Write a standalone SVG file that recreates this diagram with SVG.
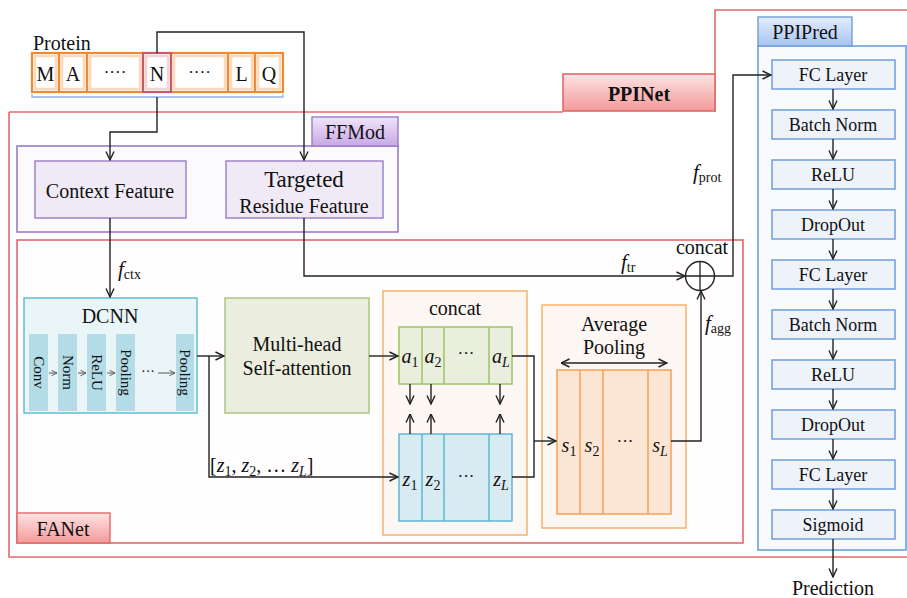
<svg xmlns="http://www.w3.org/2000/svg" width="907" height="598" viewBox="0 0 907 598" font-family="'Liberation Serif', 'Times New Roman', serif" font-size="20">
  <defs>
    <style>
      text { font-family: "Liberation Serif", "Times New Roman", serif; fill: #111; }
      .c { text-anchor: middle; }
      .it { font-style: italic; }
      .sub { font-size: 14px; }
      .ly { font-size: 18px; }
      .wire { fill: none; stroke: #222; stroke-width: 1.4; }
      .thin { fill: none; stroke: #555; stroke-width: 1; }
      .layer { fill: #eef3f9; stroke: #6f9fd8; stroke-width: 1.5; }
      .bar { fill: #b3dce7; stroke: none; }
      .res { fill: none; stroke: #f08a30; stroke-width: 2.2; }
      .glow { fill: #fff; stroke: #fcd9bb; stroke-width: 2.5; }
    </style>
    <marker id="ah" viewBox="0 0 10 10" refX="9.5" refY="5" markerWidth="10" markerHeight="10" orient="auto-start-reverse" markerUnits="userSpaceOnUse">
      <path d="M1,1 L9.5,5 L1,9" fill="none" stroke="#222" stroke-width="1.4"/>
    </marker>
    <marker id="ahs" viewBox="0 0 10 10" refX="9" refY="5" markerWidth="7" markerHeight="7" orient="auto" markerUnits="userSpaceOnUse">
      <path d="M1,1 L9,5 L1,9" fill="none" stroke="#555" stroke-width="1.3"/>
    </marker>
    <linearGradient id="gRed" x1="0" y1="0" x2="0" y2="1">
      <stop offset="0" stop-color="#fde3e3"/>
      <stop offset="1" stop-color="#f39a9a"/>
    </linearGradient>
    <linearGradient id="gPurple" x1="0" y1="0" x2="0" y2="1">
      <stop offset="0" stop-color="#f0e4fa"/>
      <stop offset="1" stop-color="#c7a8e6"/>
    </linearGradient>
    <linearGradient id="gBlue" x1="0" y1="0" x2="0" y2="1">
      <stop offset="0" stop-color="#e4eeff"/>
      <stop offset="1" stop-color="#a6c3f0"/>
    </linearGradient>
  </defs>

  <!-- PPINet outer frame -->
  <g id="ppinet">
    <path d="M9,112 H563 M715,112 V10 H907 M9,112 V557 H907" fill="none" stroke="#e06a6a" stroke-width="1.6"/>
    <rect x="563" y="74" width="152" height="37" fill="url(#gRed)" stroke="#e06a6a" stroke-width="1.6"/>
    <text x="639" y="101" class="c" font-weight="bold">PPINet</text>
  </g>

  <!-- Protein sequence -->
  <g id="protein">
    <text x="33" y="50">Protein</text>
    <rect class="glow" x="35" y="56" width="21" height="33"/>
    <rect class="glow" x="62" y="56" width="22" height="33"/>
    <rect class="glow" x="90" y="56" width="50" height="33"/>
    <rect class="glow" x="174" y="56" width="51" height="33"/>
    <rect class="glow" x="231" y="56" width="21" height="33"/>
    <rect class="glow" x="258" y="56" width="22" height="33"/>
    <rect class="res" x="32" y="53" width="27" height="39"/>
    <rect class="res" x="59" y="53" width="28" height="39"/>
    <rect class="res" x="87" y="53" width="56" height="39"/>
    <rect class="res" x="171" y="53" width="57" height="39"/>
    <rect class="res" x="228" y="53" width="27" height="39"/>
    <rect class="res" x="255" y="53" width="28" height="39"/>
    <rect x="146" y="56" width="22" height="33" fill="#fff" stroke="#f2d4d8" stroke-width="2.5"/>
    <rect x="143" y="53" width="28" height="39" fill="none" stroke="#c45a6a" stroke-width="2.2"/>
    <text x="45.5" y="81" class="c">M</text>
    <text x="73" y="81" class="c">A</text>
    <text x="115" y="78" class="c" font-size="17">····</text>
    <text x="157" y="81" class="c">N</text>
    <text x="199.5" y="78" class="c" font-size="17">····</text>
    <text x="241.5" y="81" class="c">L</text>
    <text x="269" y="81" class="c">Q</text>
    <path d="M32,94 V97 H283 V94" fill="none" stroke="#8fb2e2" stroke-width="1.3"/>
  </g>

  <!-- FFMod -->
  <g id="ffmod">
    <rect x="17" y="146" width="381" height="86" fill="#fbfbfd" stroke="#9a7cc8" stroke-width="1.6"/>
    <rect x="312" y="117" width="86" height="29" fill="url(#gPurple)" stroke="#9a7cc8" stroke-width="1.4"/>
    <text x="355" y="139" class="c">FFMod</text>
  </g>
  <g id="context-feature">
    <rect x="35" y="161" width="151" height="57" fill="#efeaf5" stroke="#9a7cc8" stroke-width="1.4"/>
    <text x="110" y="198" class="c">Context Feature</text>
  </g>
  <g id="targeted-feature">
    <rect x="226" y="161" width="157" height="57" fill="#efeaf5" stroke="#9a7cc8" stroke-width="1.4"/>
    <text x="304" y="187" class="c" font-size="23">Targeted</text>
    <text x="304" y="213" class="c">Residue Feature</text>
  </g>

  <!-- FANet -->
  <g id="fanet">
    <rect x="17" y="240" width="726" height="303" fill="#fffdfd" stroke="#e06a6a" stroke-width="1.6"/>
    <rect x="17" y="513" width="93" height="30" fill="url(#gRed)" stroke="#e06a6a" stroke-width="1.4"/>
    <text x="63" y="536" class="c">FANet</text>
  </g>

  <!-- DCNN -->
  <g id="dcnn">
    <rect x="24" y="298" width="173" height="115" fill="#eaf5f8" stroke="#62bcd6" stroke-width="1.5"/>
    <text x="110" y="323" class="c">DCNN</text>
    <rect class="bar" x="29" y="334" width="19" height="77"/>
    <rect class="bar" x="58" y="334" width="19" height="77"/>
    <rect class="bar" x="87" y="334" width="19" height="77"/>
    <rect class="bar" x="116" y="334" width="19" height="77"/>
    <rect class="bar" x="176" y="334" width="18" height="77"/>
    <text transform="translate(38.5,372.5) rotate(90)" class="c" font-size="15" dy="5">Conv</text>
    <text transform="translate(67.5,372.5) rotate(90)" class="c" font-size="15" dy="5">Norm</text>
    <text transform="translate(96.5,372.5) rotate(90)" class="c" font-size="15" dy="5">ReLU</text>
    <text transform="translate(125.5,372.5) rotate(90)" class="c" font-size="15" dy="5">Pooling</text>
    <text transform="translate(185,372.5) rotate(90)" class="c" font-size="15" dy="5">Pooling</text>
    <path class="thin" d="M49,373 H57" marker-end="url(#ahs)"/>
    <path class="thin" d="M78,373 H86" marker-end="url(#ahs)"/>
    <path class="thin" d="M107,373 H115" marker-end="url(#ahs)"/>
    <text x="148" y="376" class="c" font-size="14" fill="#444">···</text>
    <path class="thin" d="M158,373 H175" marker-end="url(#ahs)"/>
  </g>

  <!-- Multi-head self-attention -->
  <g id="mhsa">
    <rect x="225" y="298" width="144" height="115" fill="#ebeedf" stroke="#a9c882" stroke-width="1.5"/>
    <text x="297" y="351" class="c">Multi-head</text>
    <text x="297" y="375" class="c">Self-attention</text>
  </g>

  <!-- Concat block -->
  <g id="concat-block">
    <rect x="383" y="291" width="144" height="244" fill="#fdf7f3" stroke="#f5b26b" stroke-width="1.5"/>
    <text x="455" y="315" class="c">concat</text>
    <rect x="399" y="327" width="113" height="57" fill="#eaeedc" stroke="#9cc464" stroke-width="1.5"/>
    <path d="M422,327 V384 M444,327 V384 M489,327 V384" stroke="#9cc464" stroke-width="1.5"/>
    <rect x="399" y="434" width="113" height="87" fill="#d8ebf2" stroke="#5fb8d2" stroke-width="1.5"/>
    <path d="M422,434 V521 M444,434 V521 M489,434 V521" stroke="#5fb8d2" stroke-width="1.5"/>
    <text x="410" y="363" class="c"><tspan class="it">a</tspan><tspan class="sub" dy="4">1</tspan></text>
    <text x="433" y="363" class="c"><tspan class="it">a</tspan><tspan class="sub" dy="4">2</tspan></text>
    <text x="466" y="359" class="c" font-size="17">···</text>
    <text x="501" y="363" class="c"><tspan class="it">a</tspan><tspan class="sub it" dy="4">L</tspan></text>
    <text x="410" y="486" class="c"><tspan class="it">z</tspan><tspan class="sub" dy="4">1</tspan></text>
    <text x="433" y="486" class="c"><tspan class="it">z</tspan><tspan class="sub" dy="4">2</tspan></text>
    <text x="466" y="482" class="c" font-size="17">···</text>
    <text x="501" y="486" class="c"><tspan class="it">z</tspan><tspan class="sub it" dy="4">L</tspan></text>
  </g>

  <!-- Average pooling -->
  <g id="avg-pooling">
    <rect x="542" y="305" width="144" height="223" fill="#fdf7f3" stroke="#f5b26b" stroke-width="1.5"/>
    <text x="614" y="331" class="c">Average</text>
    <text x="614" y="354" class="c">Pooling</text>
    <rect x="557" y="370" width="114" height="144" fill="#fce5d3" stroke="#f5a05a" stroke-width="1.5"/>
    <path d="M580,370 V514 M603,370 V514 M648,370 V514" stroke="#f5a05a" stroke-width="1.5"/>
    <text x="569" y="452" class="c"><tspan class="it">s</tspan><tspan class="sub" dy="4">1</tspan></text>
    <text x="592" y="452" class="c"><tspan class="it">s</tspan><tspan class="sub" dy="4">2</tspan></text>
    <text x="625" y="447" class="c" font-size="17">···</text>
    <text x="660" y="452" class="c"><tspan class="it">s</tspan><tspan class="sub it" dy="4">L</tspan></text>
  </g>

  <!-- Concat operator -->
  <g id="concat-op">
    <circle cx="700" cy="276" r="14.5" fill="#fff" stroke="#222" stroke-width="1.4"/>
    <path d="M685.5,276 H714.5 M700,261.5 V290.5" stroke="#222" stroke-width="1.3"/>
    <text x="702" y="254" class="c">concat</text>
  </g>

  <!-- PPIPred -->
  <g id="ppipred">
    <rect x="758" y="46" width="148" height="504" fill="#f8fafd" stroke="#6f9fd8" stroke-width="1.6"/>
    <rect x="758" y="17" width="94" height="29" fill="url(#gBlue)" stroke="#6f9fd8" stroke-width="1.4"/>
    <text x="805" y="39" class="c">PPIPred</text>
  </g>
  <g id="fc1"><rect class="layer" x="772" y="60" width="123" height="29"/><text x="833" y="81" class="c ly">FC Layer</text></g>
  <g id="bn1"><rect class="layer" x="772" y="110" width="123" height="29"/><text x="833" y="131" class="c ly">Batch Norm</text></g>
  <g id="relu1"><rect class="layer" x="772" y="160" width="123" height="29"/><text x="833" y="181" class="c ly">ReLU</text></g>
  <g id="drop1"><rect class="layer" x="772" y="210" width="123" height="29"/><text x="833" y="231" class="c ly">DropOut</text></g>
  <g id="fc2"><rect class="layer" x="772" y="260" width="123" height="29"/><text x="833" y="281" class="c ly">FC Layer</text></g>
  <g id="bn2"><rect class="layer" x="772" y="310" width="123" height="29"/><text x="833" y="331" class="c ly">Batch Norm</text></g>
  <g id="relu2"><rect class="layer" x="772" y="360" width="123" height="29"/><text x="833" y="381" class="c ly">ReLU</text></g>
  <g id="drop2"><rect class="layer" x="772" y="410" width="123" height="29"/><text x="833" y="431" class="c ly">DropOut</text></g>
  <g id="fc3"><rect class="layer" x="772" y="460" width="123" height="29"/><text x="833" y="481" class="c ly">FC Layer</text></g>
  <g id="sigmoid"><rect class="layer" x="772" y="510" width="123" height="29"/><text x="833" y="531" class="c ly">Sigmoid</text></g>
  <g id="prediction"><text x="833" y="595" class="c">Prediction</text></g>

  <!-- Connectors -->
  <g id="connectors" class="wire">
    <path d="M157,53 V32 H304 V160" marker-end="url(#ah)"/>
    <path d="M157,97 V132 H110 V160" marker-end="url(#ah)"/>
    <path d="M110,218 V297" marker-end="url(#ah)"/>
    <path d="M304,218 V276 H685" marker-end="url(#ah)"/>
    <path d="M715,276 H733 V75 H771" marker-end="url(#ah)"/>
    <path d="M197,356 H224" marker-end="url(#ah)"/>
    <path d="M209,356 V477 H398" marker-end="url(#ah)"/>
    <path d="M369,356 H398" marker-end="url(#ah)"/>
    <path d="M512,356 H534 V477 H512"/>
    <path d="M534,441 H556" marker-end="url(#ah)"/>
    <path d="M671,441 H701 V291" marker-end="url(#ah)"/>
    <path d="M561,363 H667" marker-start="url(#ah)" marker-end="url(#ah)"/>
    <path d="M410,384 V404" marker-end="url(#ah)"/>
    <path d="M431,384 V404" marker-end="url(#ah)"/>
    <path d="M500,384 V404" marker-end="url(#ah)"/>
    <path d="M410,434 V414" marker-end="url(#ah)"/>
    <path d="M431,434 V414" marker-end="url(#ah)"/>
    <path d="M500,434 V414" marker-end="url(#ah)"/>
    <path d="M833,89 V109" marker-end="url(#ah)"/>
    <path d="M833,139 V159" marker-end="url(#ah)"/>
    <path d="M833,189 V209" marker-end="url(#ah)"/>
    <path d="M833,239 V259" marker-end="url(#ah)"/>
    <path d="M833,289 V309" marker-end="url(#ah)"/>
    <path d="M833,339 V359" marker-end="url(#ah)"/>
    <path d="M833,389 V409" marker-end="url(#ah)"/>
    <path d="M833,439 V459" marker-end="url(#ah)"/>
    <path d="M833,489 V509" marker-end="url(#ah)"/>
    <path d="M833,539 V577" marker-end="url(#ah)"/>
  </g>

  <!-- Connector labels -->
  <g id="labels">
    <text x="118" y="276" font-size="21"><tspan class="it">f</tspan><tspan class="sub" dy="3">ctx</tspan></text>
    <text x="621" y="269" font-size="21"><tspan class="it">f</tspan><tspan class="sub" dy="3">tr</tspan></text>
    <text x="693" y="179" font-size="21"><tspan class="it">f</tspan><tspan class="sub" dy="3">prot</tspan></text>
    <text x="705" y="330" font-size="21"><tspan class="it">f</tspan><tspan class="sub" dy="3">agg</tspan></text>
    <text x="210" y="472">[<tspan class="it">z</tspan><tspan class="sub" dy="4">1</tspan><tspan dy="-4">, </tspan><tspan class="it">z</tspan><tspan class="sub" dy="4">2</tspan><tspan dy="-4">, … </tspan><tspan class="it">z</tspan><tspan class="sub it" dy="4">L</tspan><tspan dy="-4">]</tspan></text>
  </g>
</svg>
